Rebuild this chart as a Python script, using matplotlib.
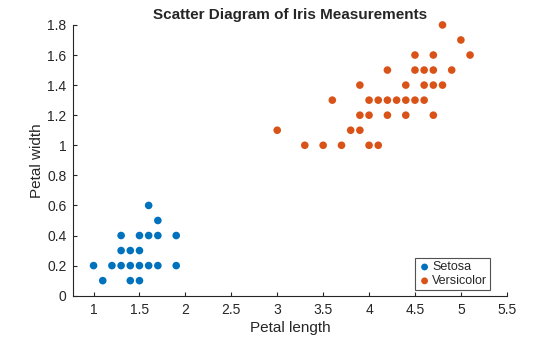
import matplotlib.pyplot as plt

plt.rcParams["font.family"] = ["Liberation Sans", "DejaVu Sans"]

# Iris petal measurements (length, width) per species
setosa_length = [1.0, 1.2, 1.3, 1.4, 1.5, 1.6, 1.7, 1.9,
                 1.1, 1.4, 1.5,
                 1.3, 1.4, 1.5,
                 1.3, 1.5, 1.6, 1.7, 1.9,
                 1.7, 1.6]
setosa_width = [0.2, 0.2, 0.2, 0.2, 0.2, 0.2, 0.2, 0.2,
                0.1, 0.1, 0.1,
                0.3, 0.3, 0.3,
                0.4, 0.4, 0.4, 0.4, 0.4,
                0.5, 0.6]

versicolor_length = [4.8, 5.0,
                     4.5, 4.7, 5.1,
                     4.2, 4.5, 4.6, 4.7, 4.9,
                     3.9, 4.4, 4.6, 4.7, 4.8,
                     3.6, 4.0, 4.1, 4.2, 4.3, 4.4, 4.5, 4.6,
                     3.9, 4.0, 4.2, 4.4, 4.7,
                     3.0, 3.8, 3.9,
                     3.3, 3.5, 3.7, 4.0, 4.1]
versicolor_width = [1.8, 1.7,
                    1.6, 1.6, 1.6,
                    1.5, 1.5, 1.5, 1.5, 1.5,
                    1.4, 1.4, 1.4, 1.4, 1.4,
                    1.3, 1.3, 1.3, 1.3, 1.3, 1.3, 1.3, 1.3,
                    1.2, 1.2, 1.2, 1.2, 1.2,
                    1.1, 1.1, 1.1,
                    1.0, 1.0, 1.0, 1.0, 1.0]

x_ticks = [1, 1.5, 2, 2.5, 3, 3.5, 4, 4.5, 5, 5.5]
y_ticks = [0, 0.2, 0.4, 0.6, 0.8, 1.0, 1.2, 1.4, 1.6, 1.8]

BLUE = "#0072BD"
ORANGE = "#D95319"
INK = "#262626"

fig = plt.figure(figsize=(5.6, 3.37), dpi=100)
ax = fig.add_axes([0.131, 0.1226, 0.774, 0.8034])

ax.scatter(setosa_length, setosa_width, s=30, color=BLUE, label="Setosa",
           edgecolors="none", zorder=3, clip_on=False)
ax.scatter(versicolor_length, versicolor_width, s=30, color=ORANGE,
           label="Versicolor", edgecolors="none", zorder=3, clip_on=False)

ax.set_xlim(0.78, 5.5)
ax.set_ylim(0, 1.8)
ax.set_xticks(x_ticks)
ax.set_xticklabels(["%g" % t for t in x_ticks])
ax.set_yticks(y_ticks)
ax.set_yticklabels(["%g" % t for t in y_ticks])

for side in ("top", "right"):
    ax.spines[side].set_visible(False)
for side in ("left", "bottom"):
    ax.spines[side].set_color(INK)
    ax.spines[side].set_linewidth(0.8)

ax.tick_params(direction="in", length=3, width=0.8, colors=INK,
               labelsize=10, pad=5)

ax.set_xlabel("Petal length", fontsize=11, color=INK, labelpad=3)
ax.set_ylabel("Petal width", fontsize=11, color=INK, labelpad=2)
ax.set_title("Scatter Diagram of Iris Measurements", fontsize=11,
             fontweight="bold", color=INK, pad=4)

leg = ax.legend(loc="lower right", bbox_to_anchor=(0.962, 0.02),
                fontsize=9, frameon=True, fancybox=False,
                handletextpad=0.1, handlelength=1.0, borderpad=0.25,
                labelspacing=0.15, markerscale=0.9, borderaxespad=0)
leg.get_frame().set_edgecolor(INK)
leg.get_frame().set_linewidth(0.8)
for t in leg.get_texts():
    t.set_color(INK)

fig.savefig("out.png", dpi=100)
